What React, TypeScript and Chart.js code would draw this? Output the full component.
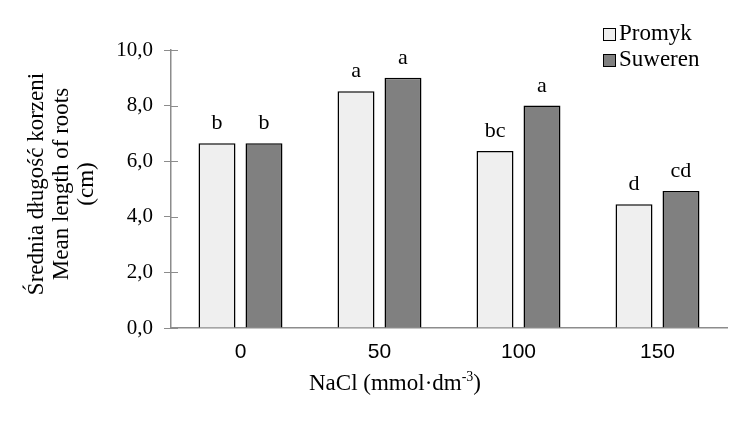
import React, { useEffect, useRef } from "react";
import { Chart, registerables } from "chart.js";

Chart.register(...registerables);

const categories = ["0", "50", "100", "150"];
const promykValues = [6.65, 8.52, 6.37, 4.45];
const suwerenValues = [6.65, 9.0, 8.0, 4.93];
const promykLetters = ["b", "a", "bc", "d"];
const suwerenLetters = ["b", "a", "a", "cd"];
const seriesNames = ["Promyk", "Suweren"];
const yTitleLines = ["Średnia długość korzeni", "Mean length of roots", "(cm)"];
const xTitleMain = "NaCl (mmol·dm";
const xTitleSup = "-3";
const xTitleEnd = ")";

const SERIF = "'Liberation Serif', 'Times New Roman', serif";
const SANS = "'Liberation Sans', Arial, sans-serif";
const AXIS_GRAY = "#8c8c8c";

const letterPlugin = {
  id: "letters",
  afterDatasetsDraw(chart: any) {
    const ctx = chart.ctx;
    ctx.save();
    ctx.font = `22px ${SERIF}`;
    ctx.fillStyle = "#000";
    ctx.textAlign = "center";
    ctx.textBaseline = "alphabetic";
    const letterSets = [promykLetters, suwerenLetters];
    chart.data.datasets.forEach((ds: any, di: number) => {
      const meta = chart.getDatasetMeta(di);
      meta.data.forEach((bar: any, i: number) => {
        ctx.fillText(letterSets[di][i], bar.x, bar.y - 14);
      });
    });
    ctx.restore();
  },
};

const decorPlugin = {
  id: "decor",
  afterDraw(chart: any) {
    const ctx = chart.ctx;
    ctx.save();
    // inner half of the y tick marks (ticks cross the axis)
    const ys = chart.scales.y;
    const axX = chart.chartArea.left;
    ctx.strokeStyle = AXIS_GRAY;
    ctx.lineWidth = 1;
    ys.ticks.forEach((t: any) => {
      const py = Math.round(ys.getPixelForValue(t.value)) + 0.5;
      ctx.beginPath();
      ctx.moveTo(axX, py);
      ctx.lineTo(axX + 7, py);
      ctx.stroke();
    });
    // Legend
    const items = chart.data.datasets;
    items.forEach((ds: any, i: number) => {
      const bx = 603;
      const by = 28 + i * 26;
      ctx.fillStyle = ds.backgroundColor;
      ctx.fillRect(bx, by, 12, 12);
      ctx.strokeStyle = "#000";
      ctx.lineWidth = 1;
      ctx.strokeRect(bx + 0.5, by + 0.5, 12, 12);
      ctx.fillStyle = "#000";
      ctx.font = `23px ${SERIF}`;
      ctx.textAlign = "left";
      ctx.textBaseline = "middle";
      ctx.fillText(ds.label, 619, by + 6);
    });
    // Y title
    ctx.save();
    ctx.translate(62, 184);
    ctx.rotate(-Math.PI / 2);
    ctx.font = `23px ${SERIF}`;
    ctx.textAlign = "center";
    ctx.textBaseline = "middle";
    ctx.fillStyle = "#000";
    yTitleLines.forEach((line, i) => {
      ctx.fillText(line, 0, (i - 1) * 25);
    });
    ctx.restore();
    // X title
    ctx.font = `23px ${SERIF}`;
    const w1 = ctx.measureText(xTitleMain).width;
    ctx.font = `14px ${SERIF}`;
    const w2 = ctx.measureText(xTitleSup).width;
    ctx.font = `23px ${SERIF}`;
    const w3 = ctx.measureText(xTitleEnd).width;
    const total = w1 + w2 + w3;
    let x = 395 - total / 2;
    const y = 384;
    ctx.textAlign = "left";
    ctx.textBaseline = "middle";
    ctx.fillStyle = "#000";
    ctx.fillText(xTitleMain, x, y);
    x += w1;
    ctx.font = `14px ${SERIF}`;
    ctx.fillText(xTitleSup, x, y - 7);
    x += w2;
    ctx.font = `23px ${SERIF}`;
    ctx.fillText(xTitleEnd, x, y);
    ctx.restore();
  },
};

export default function App() {
  const ref = useRef<HTMLCanvasElement>(null);
  useEffect(() => {
    document.body.style.margin = "0";
    const chart = new Chart(ref.current as HTMLCanvasElement, {
      type: "bar",
      data: {
        labels: categories,
        datasets: [
          {
            label: seriesNames[0],
            data: promykValues,
            backgroundColor: "#efefef",
            borderColor: "#000",
            borderWidth: 1.5,
            borderSkipped: "bottom",
            categoryPercentage: 0.676,
            barPercentage: 0.787,
          },
          {
            label: seriesNames[1],
            data: suwerenValues,
            backgroundColor: "#808080",
            borderColor: "#000",
            borderWidth: 1.5,
            borderSkipped: "bottom",
            categoryPercentage: 0.676,
            barPercentage: 0.787,
          },
        ],
      },
      options: {
        animation: false,
        responsive: false,
        maintainAspectRatio: false,
        layout: { padding: { left: 0, top: 50, right: 23, bottom: 0 } },
        plugins: {
          legend: { display: false },
          tooltip: { enabled: false },
        },
        scales: {
          x: {
            grid: { display: true, drawOnChartArea: false, drawTicks: false },
            border: { display: true, color: AXIS_GRAY, width: 1.5 },
            ticks: {
              color: "#000",
              font: { family: SANS, size: 21 },
              padding: 12,
            },
            afterFit(scale: any) {
              scale.height = 99;
            },
          },
          y: {
            min: 0,
            max: 10,
            grid: {
              display: true,
              drawOnChartArea: false,
              drawTicks: true,
              tickLength: 7,
              color: AXIS_GRAY,
            },
            border: { display: true, color: AXIS_GRAY, width: 1.5 },
            ticks: {
              stepSize: 2,
              color: "#000",
              font: { family: SERIF, size: 21 },
              padding: 11,
              callback: (v: any) => Number(v).toFixed(1).replace(".", ","),
            },
            afterFit(scale: any) {
              scale.width = 171;
            },
          },
        },
      },
      plugins: [letterPlugin, decorPlugin],
    });
    return () => chart.destroy();
  }, []);
  return <canvas ref={ref} width={750} height={427} style={{ display: "block" }} />;
}
